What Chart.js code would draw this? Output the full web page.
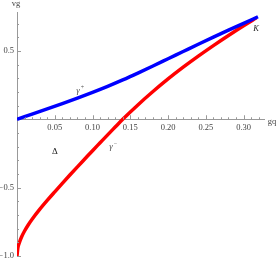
<!DOCTYPE html>
<html>
<head>
<meta charset="utf-8">
<script src="https://cdn.jsdelivr.net/npm/chart.js@4.4.0/dist/chart.umd.min.js"></script>
<style>
  html, body { margin: 0; padding: 0; background: #fff; }
  #wrap { width: 277px; height: 264px; }
</style>
</head>
<body>
<div id="wrap"><canvas id="gqChart"></canvas></div>
<script>
// gamma+ branch (blue)
const gqPlus = [0, 0.02, 0.04, 0.06, 0.08, 0.10, 0.12, 0.14, 0.16, 0.18, 0.20, 0.22, 0.24, 0.26, 0.28, 0.30, 0.319];
const vgPlus = [0, 0.038, 0.076, 0.115, 0.155, 0.197, 0.241, 0.288, 0.338, 0.390, 0.443, 0.496, 0.549, 0.601, 0.652, 0.702, 0.750];

// gamma- branch (red)
const gqMinus = [0, 0.001, 0.003, 0.006, 0.01, 0.015, 0.02, 0.03, 0.04, 0.05, 0.06, 0.07, 0.08, 0.09, 0.10, 0.11, 0.12, 0.13, 0.14, 0.16, 0.18, 0.20, 0.22, 0.24, 0.26, 0.28, 0.30, 0.317];
const vgMinus = [-1, -0.945, -0.905, -0.862, -0.818, -0.772, -0.732, -0.66, -0.594, -0.531, -0.469, -0.408, -0.348, -0.289, -0.23, -0.172, -0.114, -0.057, 0, 0.105, 0.203, 0.295, 0.381, 0.462, 0.539, 0.613, 0.684, 0.742];

// tick labels and tick marks
const xLabelTicks = [0.05, 0.10, 0.15, 0.20, 0.25, 0.30];
const yLabelTicks = [-1.0, -0.5, 0.5];
const xMinorTicks = [0.01, 0.02, 0.03, 0.04, 0.06, 0.07, 0.08, 0.09, 0.11, 0.12, 0.13, 0.14, 0.16, 0.17, 0.18, 0.19, 0.21, 0.22, 0.23, 0.24, 0.26, 0.27, 0.28, 0.29, 0.31, 0.32];
const yMinorTicks = [-0.9, -0.8, -0.7, -0.6, -0.4, -0.3, -0.2, -0.1, 0.1, 0.2, 0.3, 0.4, 0.6, 0.7];

const serif = '"Liberation Serif", "DejaVu Serif", serif';

const toPoints = (xs, ys) => xs.map((x, i) => ({ x: x, y: ys[i] }));

// draws inward tick marks and the text annotations
const decorations = {
    id: 'decorations',
    afterDraw(chart) {
        const ctx = chart.ctx;
        const xs = chart.scales.x;
        const ys = chart.scales.y;
        const x0 = xs.getPixelForValue(0);
        const y0 = ys.getPixelForValue(0);

        ctx.save();
        ctx.strokeStyle = '#999';
        ctx.lineWidth = 1;
        ctx.beginPath();
        xMinorTicks.forEach(v => {
            const p = Math.round(xs.getPixelForValue(v)) + 0.5;
            ctx.moveTo(p, y0); ctx.lineTo(p, y0 - 2);
        });
        xLabelTicks.forEach(v => {
            const p = Math.round(xs.getPixelForValue(v)) + 0.5;
            ctx.moveTo(p, y0); ctx.lineTo(p, y0 - 4);
        });
        yMinorTicks.forEach(v => {
            const p = Math.round(ys.getPixelForValue(v)) + 0.5;
            ctx.moveTo(x0, p); ctx.lineTo(x0 + 2, p);
        });
        yLabelTicks.forEach(v => {
            const p = Math.round(ys.getPixelForValue(v)) + 0.5;
            ctx.moveTo(x0, p); ctx.lineTo(x0 + 4, p);
        });
        ctx.stroke();

        // axis names
        ctx.fillStyle = '#444';
        ctx.font = '8.5px ' + serif;
        ctx.textAlign = 'center';
        ctx.textBaseline = 'middle';
        ctx.fillText('vg', 16, 4);
        ctx.fillText('gq', 272, 122);

        // curve labels
        ctx.font = 'italic 9px ' + serif;
        ctx.fillStyle = '#555';
        ctx.fillText('\u03b3', 78, 91);
        ctx.font = '6px ' + serif;
        ctx.fillText('+', 82.5, 87);
        ctx.font = 'italic 9px ' + serif;
        ctx.fillText('\u03b3', 111, 147);
        ctx.font = '6px ' + serif;
        ctx.fillText('\u2212', 115.5, 143);

        ctx.fillStyle = '#222';
        ctx.font = '9px ' + serif;
        ctx.fillText('\u0394', 55, 152);
        ctx.font = 'italic 8.5px ' + serif;
        ctx.fillText('K', 256, 29);
        ctx.restore();
    }
};

new Chart(document.getElementById('gqChart'), {
    type: 'line',
    data: {
        datasets: [{
            label: 'gamma+',
            data: toPoints(gqPlus, vgPlus),
            borderColor: '#0000ff',
            borderWidth: 3.5,
            pointRadius: 0,
            cubicInterpolationMode: 'monotone',
            fill: false
        }, {
            label: 'gamma-',
            data: toPoints(gqMinus, vgMinus),
            borderColor: '#ff0000',
            borderWidth: 3.5,
            pointRadius: 0,
            cubicInterpolationMode: 'monotone',
            fill: false
        }]
    },
    options: {
        responsive: true,
        maintainAspectRatio: false,
        animation: false,
        layout: { padding: { left: 0, right: 13, top: 12, bottom: 5 } },
        plugins: {
            legend: { display: false },
            tooltip: { enabled: false }
        },
        scales: {
            x: {
                type: 'linear',
                position: { y: 0 },
                min: 0,
                max: 0.327,
                afterBuildTicks: scale => { scale.ticks = xLabelTicks.map(v => ({ value: v })); },
                grid: { display: false, drawTicks: false },
                border: { display: true, color: '#999', width: 1 },
                ticks: {
                    autoSkip: false,
                    maxRotation: 0,
                    padding: 3,
                    color: '#444',
                    font: { family: serif, size: 8.5 },
                    callback: v => v.toFixed(2)
                }
            },
            y: {
                type: 'linear',
                position: 'left',
                min: -1,
                max: 0.785,
                afterBuildTicks: scale => { scale.ticks = yLabelTicks.map(v => ({ value: v })); },
                afterFit: scale => { scale.width = 17; },
                grid: { display: false, drawTicks: false },
                border: { display: true, color: '#999', width: 1 },
                ticks: {
                    padding: 3,
                    color: '#444',
                    font: { family: serif, size: 8.5 },
                    callback: v => v.toFixed(1).replace('-', '\u2212')
                }
            }
        }
    },
    plugins: [decorations]
});
</script>
</body>
</html>
